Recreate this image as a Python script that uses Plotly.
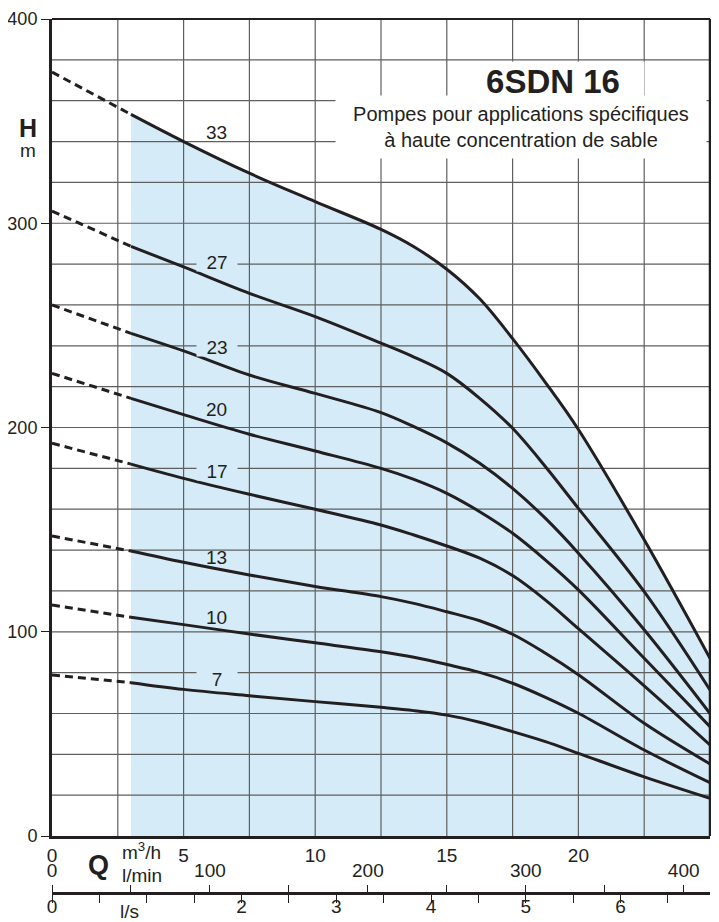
import plotly.graph_objects as go

# ---------------- data ----------------
FLOW = [3, 5, 7.5, 10, 12.5, 13.75, 15, 16.25, 17.5, 18.75, 20, 22.5, 25]  # m3/h, solid part
FLOW_DASH = [0, 3]                                                          # m3/h, dashed part

STAGES = ["33", "27", "23", "20", "17", "13", "10", "7"]
H_SHUTOFF = [374, 306, 260, 226.5, 192.3, 146.9, 113.1, 78.8]  # head at Q = 0

H_33 = [353.3, 340, 324.5, 310.6, 297, 288.5, 277.5, 263, 243.5, 222, 199, 145, 87]
H_27 = [288.7, 278.6, 265.7, 254.3, 241.3, 234.5, 226.5, 214.3, 199.6, 180.8, 160.4, 119.6, 71.5]
H_23 = [246.1, 237.5, 225.7, 216.7, 207.3, 200.4, 192.5, 182.5, 170.2, 155.5, 138.5, 101, 60]
H_20 = [214.3, 206.3, 196.7, 188.5, 180, 174.6, 167.8, 158.8, 148.2, 135.1, 120.5, 87, 53.5]
H_17 = [182.1, 175.1, 167.3, 160, 152.3, 147.4, 142, 136, 127.5, 115.5, 101.5, 73.5, 44.6]
H_13 = [139.5, 134, 127.8, 122.2, 117.2, 113.9, 109.8, 105.4, 98.8, 89.5, 79, 55.2, 35.3]
H_10 = [107.1, 103.5, 98.9, 94.6, 90.2, 87.5, 84, 80.1, 74.8, 67.9, 60.1, 42.1, 26.1]
H_7 = [75.1, 71.8, 68.7, 65.8, 63, 61.4, 59.2, 55.7, 51.1, 46.2, 40.5, 29, 18.5]
CURVES = [H_33, H_27, H_23, H_20, H_17, H_13, H_10, H_7]

LABEL_Q = 6.25
LABEL_H = [344.5, 281, 239.3, 208.9, 178.7, 136.4, 107, 76.7]
LABEL_CUTS_GRID = [False, True, True, False, True, False, False, True]

Q_TICKS = [0, 5, 10, 15, 20, 25]                         # m3/h
LMIN_TICKS = [0, 50, 100, 150, 200, 250, 300, 350, 400]  # l/min
LMIN_LABELS = ["0", " ", "100", " ", "200", " ", "300", " ", "400"]
LS_TICKS = [0, 0.5, 1, 1.5, 2, 2.5, 3, 3.5, 4, 4.5, 5, 5.5, 6, 6.5]  # l/s
LS_LABEL_VALS = [0, 2, 3, 4, 5, 6]
H_TICKS = [0, 100, 200, 300, 400]
GRID_Q = [2.5, 5, 7.5, 10, 12.5, 15, 17.5, 20, 22.5]
GRID_H = list(range(20, 400, 20))

Q_MAX = 25
H_MAX = 400

# ---------------- style ----------------
FONT = "Liberation Sans, Arial, Helvetica, sans-serif"
INK = "#231f20"
FILL = "#d5ebf8"
GRID = "#5f5f5f"

fig = go.Figure()

# blue operating area (under the top curve)
fig.add_trace(go.Scatter(x=FLOW, y=H_33, mode="lines", fill="tozeroy",
                         fillcolor=FILL,
                         line=dict(width=0, shape="spline", smoothing=1, color=FILL),
                         hoverinfo="skip", showlegend=False))

# grid drawn above the fill
gx, gy = [], []
for v in GRID_Q:
    gx += [v, v, None]
    gy += [0, H_MAX, None]
for h in GRID_H:
    gx += [0, Q_MAX, None]
    gy += [h, h, None]
fig.add_trace(go.Scatter(x=gx, y=gy, mode="lines", line=dict(color=GRID, width=1.2),
                         hoverinfo="skip", showlegend=False))

# curves
for name, h0, hs in zip(STAGES, H_SHUTOFF, CURVES):
    fig.add_trace(go.Scatter(x=FLOW_DASH, y=[h0, hs[0]], mode="lines",
                             line=dict(color=INK, width=3, dash="8px,5px"),
                             hoverinfo="skip", showlegend=False))
    fig.add_trace(go.Scatter(x=FLOW, y=hs, mode="lines", name=name,
                             line=dict(color=INK, width=3, shape="spline", smoothing=1),
                             showlegend=False))

# dummy traces so the secondary flow axes are drawn
for ax in ["x2", "x3", "x4"]:
    fig.add_trace(go.Scatter(x=[0], y=[None], xaxis=ax, yaxis="y", mode="markers",
                             hoverinfo="skip", showlegend=False))

annotations = []
for name, lh, cut in zip(STAGES, LABEL_H, LABEL_CUTS_GRID):
    a = dict(x=LABEL_Q, y=lh, xref="x", yref="y", text=name, showarrow=False,
             xanchor="center", yanchor="middle",
             font=dict(family=FONT, size=19, color=INK))
    if cut:
        a.update(bgcolor=FILL, width=38, height=16)
    annotations.append(a)


def paper_text(x, y, text, size, **kw):
    d = dict(x=x, y=y, xref="paper", yref="paper", text=text, showarrow=False,
             xanchor="center", yanchor="middle", font=dict(family=FONT, size=size, color=INK))
    d.update(kw)
    return d


annotations += [
    dict(x=19.03, y=369.6, xref="x", yref="y", text="<b>6SDN 16</b>", showarrow=False,
         xanchor="center", yanchor="middle",
         font=dict(family=FONT, size=33, color=INK), bgcolor="white", width=180, height=37),
    dict(x=17.82, y=346.9, xref="x", yref="y",
         text="Pompes pour applications spécifiques<br>à haute concentration de sable",
         showarrow=False, xanchor="center", yanchor="middle",
         font=dict(family=FONT, size=20, color=INK),
         bgcolor="white", width=368, height=60),
    paper_text(-0.0372, 0.8793, "<b>H</b>", 25),
    paper_text(-0.0372, 0.8545, "m", 19),
    paper_text(0.0714, 0.0631, "<b>Q</b>", 27),
    paper_text(0.1033, 0.0786, "m<sup>3</sup>/h", 19, xanchor="left"),
    paper_text(0.1033, 0.052, "l/min", 19, xanchor="left"),
    paper_text(0.1185, 0.0111, "l/s", 19),
]

Y_DOMAIN_LOW = 0.0952
LS_AXIS_POS = 0.0321

common = dict(showgrid=False, zeroline=False, automargin=False, tickfont=dict(size=19))

# the page body has an 8 px margin: the figure is sized and offset to account for it
fig.update_layout(
    width=711, height=914,
    margin=dict(l=44, r=9, t=11, b=0, autoexpand=False),
    paper_bgcolor="white", plot_bgcolor="white",
    font=dict(family=FONT, size=19, color=INK),
    showlegend=False,
    xaxis=dict(range=[0, Q_MAX], tickvals=Q_TICKS, ticks="",
               showline=True, linewidth=3, linecolor=INK, **common),
    xaxis2=dict(overlaying="x", anchor="free", position=LS_AXIS_POS, side="top",
                range=[0, Q_MAX * 1000 / 60], tickvals=LMIN_TICKS, ticktext=LMIN_LABELS,
                ticks="outside", ticklen=8, tickwidth=1.2, tickcolor=INK,
                showline=False, **common),
    xaxis3=dict(overlaying="x", anchor="free", position=LS_AXIS_POS, side="bottom",
                range=[0, Q_MAX / 3.6], tickvals=LS_TICKS, showticklabels=False,
                ticks="outside", ticklen=8, tickwidth=1.2, tickcolor=INK,
                showline=True, linewidth=3, linecolor=INK, **common),
    xaxis4=dict(overlaying="x", anchor="free", position=LS_AXIS_POS, side="bottom",
                range=[0, Q_MAX / 3.6], tickvals=LS_LABEL_VALS, ticks="",
                showline=False, **common),
    yaxis=dict(domain=[Y_DOMAIN_LOW, 1], range=[0, H_MAX], tickvals=H_TICKS,
               ticks="outside", ticklen=8, tickwidth=1.2, tickcolor=INK,
               showline=True, linewidth=3, linecolor=INK,
               showgrid=False, zeroline=False, automargin=False, tickfont=dict(size=18)),
    annotations=annotations,
    shapes=[
        dict(type="line", xref="x domain", yref="y domain", x0=0, x1=1, y0=1, y1=1,
             line=dict(color=INK, width=2)),
        dict(type="line", xref="x domain", yref="y domain", x0=1, x1=1, y0=0, y1=1,
             line=dict(color=INK, width=2.5)),
    ],
)

fig.write_html("out.html")
